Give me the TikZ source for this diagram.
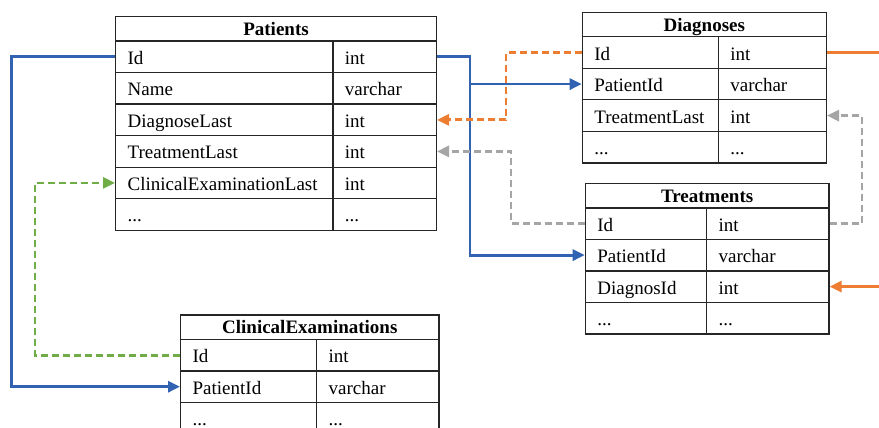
\documentclass[tikz,border=0pt]{standalone}
\usepackage{fontspec}
\setmainfont{Liberation Serif}
\usetikzlibrary{arrows.meta}

\definecolor{fkblue}{RGB}{50,98,178}
\definecolor{fkorange}{RGB}{237,125,49}
\definecolor{fkgray}{RGB}{165,165,165}
\definecolor{fkgreen}{RGB}{112,173,71}

% placeholder text for the trailing row of every table
\newcommand\etccell{...}

\tikzset{
  cellbase/.style={draw=black!85, line width=1.3pt, inner xsep=12pt, inner ysep=0pt,
    font=\fontsize{19}{22}\selectfont, anchor=north west},
  titlecell/.style={cellbase, minimum height=24.5pt, text height=15pt, text depth=1.7pt,
    font=\fontsize{19}{22}\selectfont\bfseries},
  rowcell/.style={cellbase, minimum height=31.5pt, text height=17pt, text depth=2pt, align=left},
  link/.style={line width=2.8pt},
  tip/.style={-{Triangle[length=12pt,width=11pt]}},
  dashlink/.style={link, dash pattern=on 7pt off 4pt},
}

% #1 name prefix, #2 left x, #3 top y, #4 first column width, #5 second column width,
% #6 table title, #7 list of field/type pairs
\newcommand\dbtable[7]{%
  \pgfmathsetlengthmacro\tbwa{#4-24}%
  \pgfmathsetlengthmacro\tbwb{#5-24}%
  \node[titlecell, minimum width={#4+#5}] (#1) at (#2,#3) {#6};
  \foreach [count=\i] \fa/\fb in {#7} {
    \node[rowcell, minimum width=#4, text width=\tbwa] (#1-\i-n)
      at (#2,{#3-24.5-(\i-1)*31.5}) {\fa};
    \node[rowcell, minimum width=#5, text width=\tbwb] (#1-\i-t)
      at ({#2+#4},{#3-24.5-(\i-1)*31.5}) {\fb};
  }%
}

\begin{document}
\begin{tikzpicture}[x=1pt,y=1pt]
\useasboundingbox (0,0) rectangle (879,-428);
\clip (0,0) rectangle (879,-428);
\fill[white] (0,0) rectangle (879,-428);

% tables
\dbtable{pat}{115}{-16}{217.3}{103.4}{Patients}
  {Id/int, Name/varchar, DiagnoseLast/int, TreatmentLast/int, ClinicalExaminationLast/int, \etccell/\etccell}
\dbtable{dg}{581.7}{-11.7}{136}{108}{Diagnoses}
  {Id/int, PatientId/varchar, TreatmentLast/int, \etccell/\etccell}
\dbtable{tr}{584.7}{-182.7}{121.3}{122.3}{Treatments}
  {Id/int, PatientId/varchar, DiagnosId/int, \etccell/\etccell}
\dbtable{ce}{180}{-314.3}{136}{122.3}{ClinicalExaminations}
  {Id/int, PatientId/varchar, \etccell/\etccell}

% bend columns of the connectors
\coordinate (bluel) at (11.7,0);
\coordinate (bluer) at (470,0);
\coordinate (orx) at (506,0);
\coordinate (grx) at (511,0);
\coordinate (grr) at (862,0);
\coordinate (gnx) at (35,0);
\coordinate (offr) at (900,0);

% Patients.Id -> ClinicalExaminations.PatientId
\draw[link, fkblue, tip] (pat-1-n.west) -| (bluel |- ce-2-n.west) -- (ce-2-n.west);
% Patients.Id -> Treatments.PatientId and Diagnoses.PatientId
\draw[link, fkblue, tip] (pat-1-t.east) -| (bluer |- tr-2-n.west) -- (tr-2-n.west);
\draw[link, fkblue, tip] (bluer |- dg-2-n.west) -- (dg-2-n.west);
% Diagnoses.Id -> Patients.DiagnoseLast
\draw[dashlink, fkorange, tip] (dg-1-n.west) -| (orx |- pat-3-t.east) -- (pat-3-t.east);
% Treatments.Id -> Patients.TreatmentLast
\draw[dashlink, fkgray, tip] (tr-1-n.west) -| (grx |- pat-4-t.east) -- (pat-4-t.east);
% Treatments.Id -> Diagnoses.TreatmentLast
\draw[dashlink, fkgray, tip] (tr-1-t.east) -| (grr |- dg-3-t.east) -- (dg-3-t.east);
% ClinicalExaminations.Id -> Patients.ClinicalExaminationLast
\draw[dashlink, fkgreen, tip] (ce-1-n.west) -| (gnx |- pat-5-n.west) -- (pat-5-n.west);
% Diagnoses.Id -> Treatments.DiagnosId (routed off the right edge)
\draw[link, fkorange] (dg-1-t.east) -- (offr |- dg-1-t.east);
\draw[link, fkorange, tip] (offr |- tr-3-t.east) -- (tr-3-t.east);
\end{tikzpicture}
\end{document}
